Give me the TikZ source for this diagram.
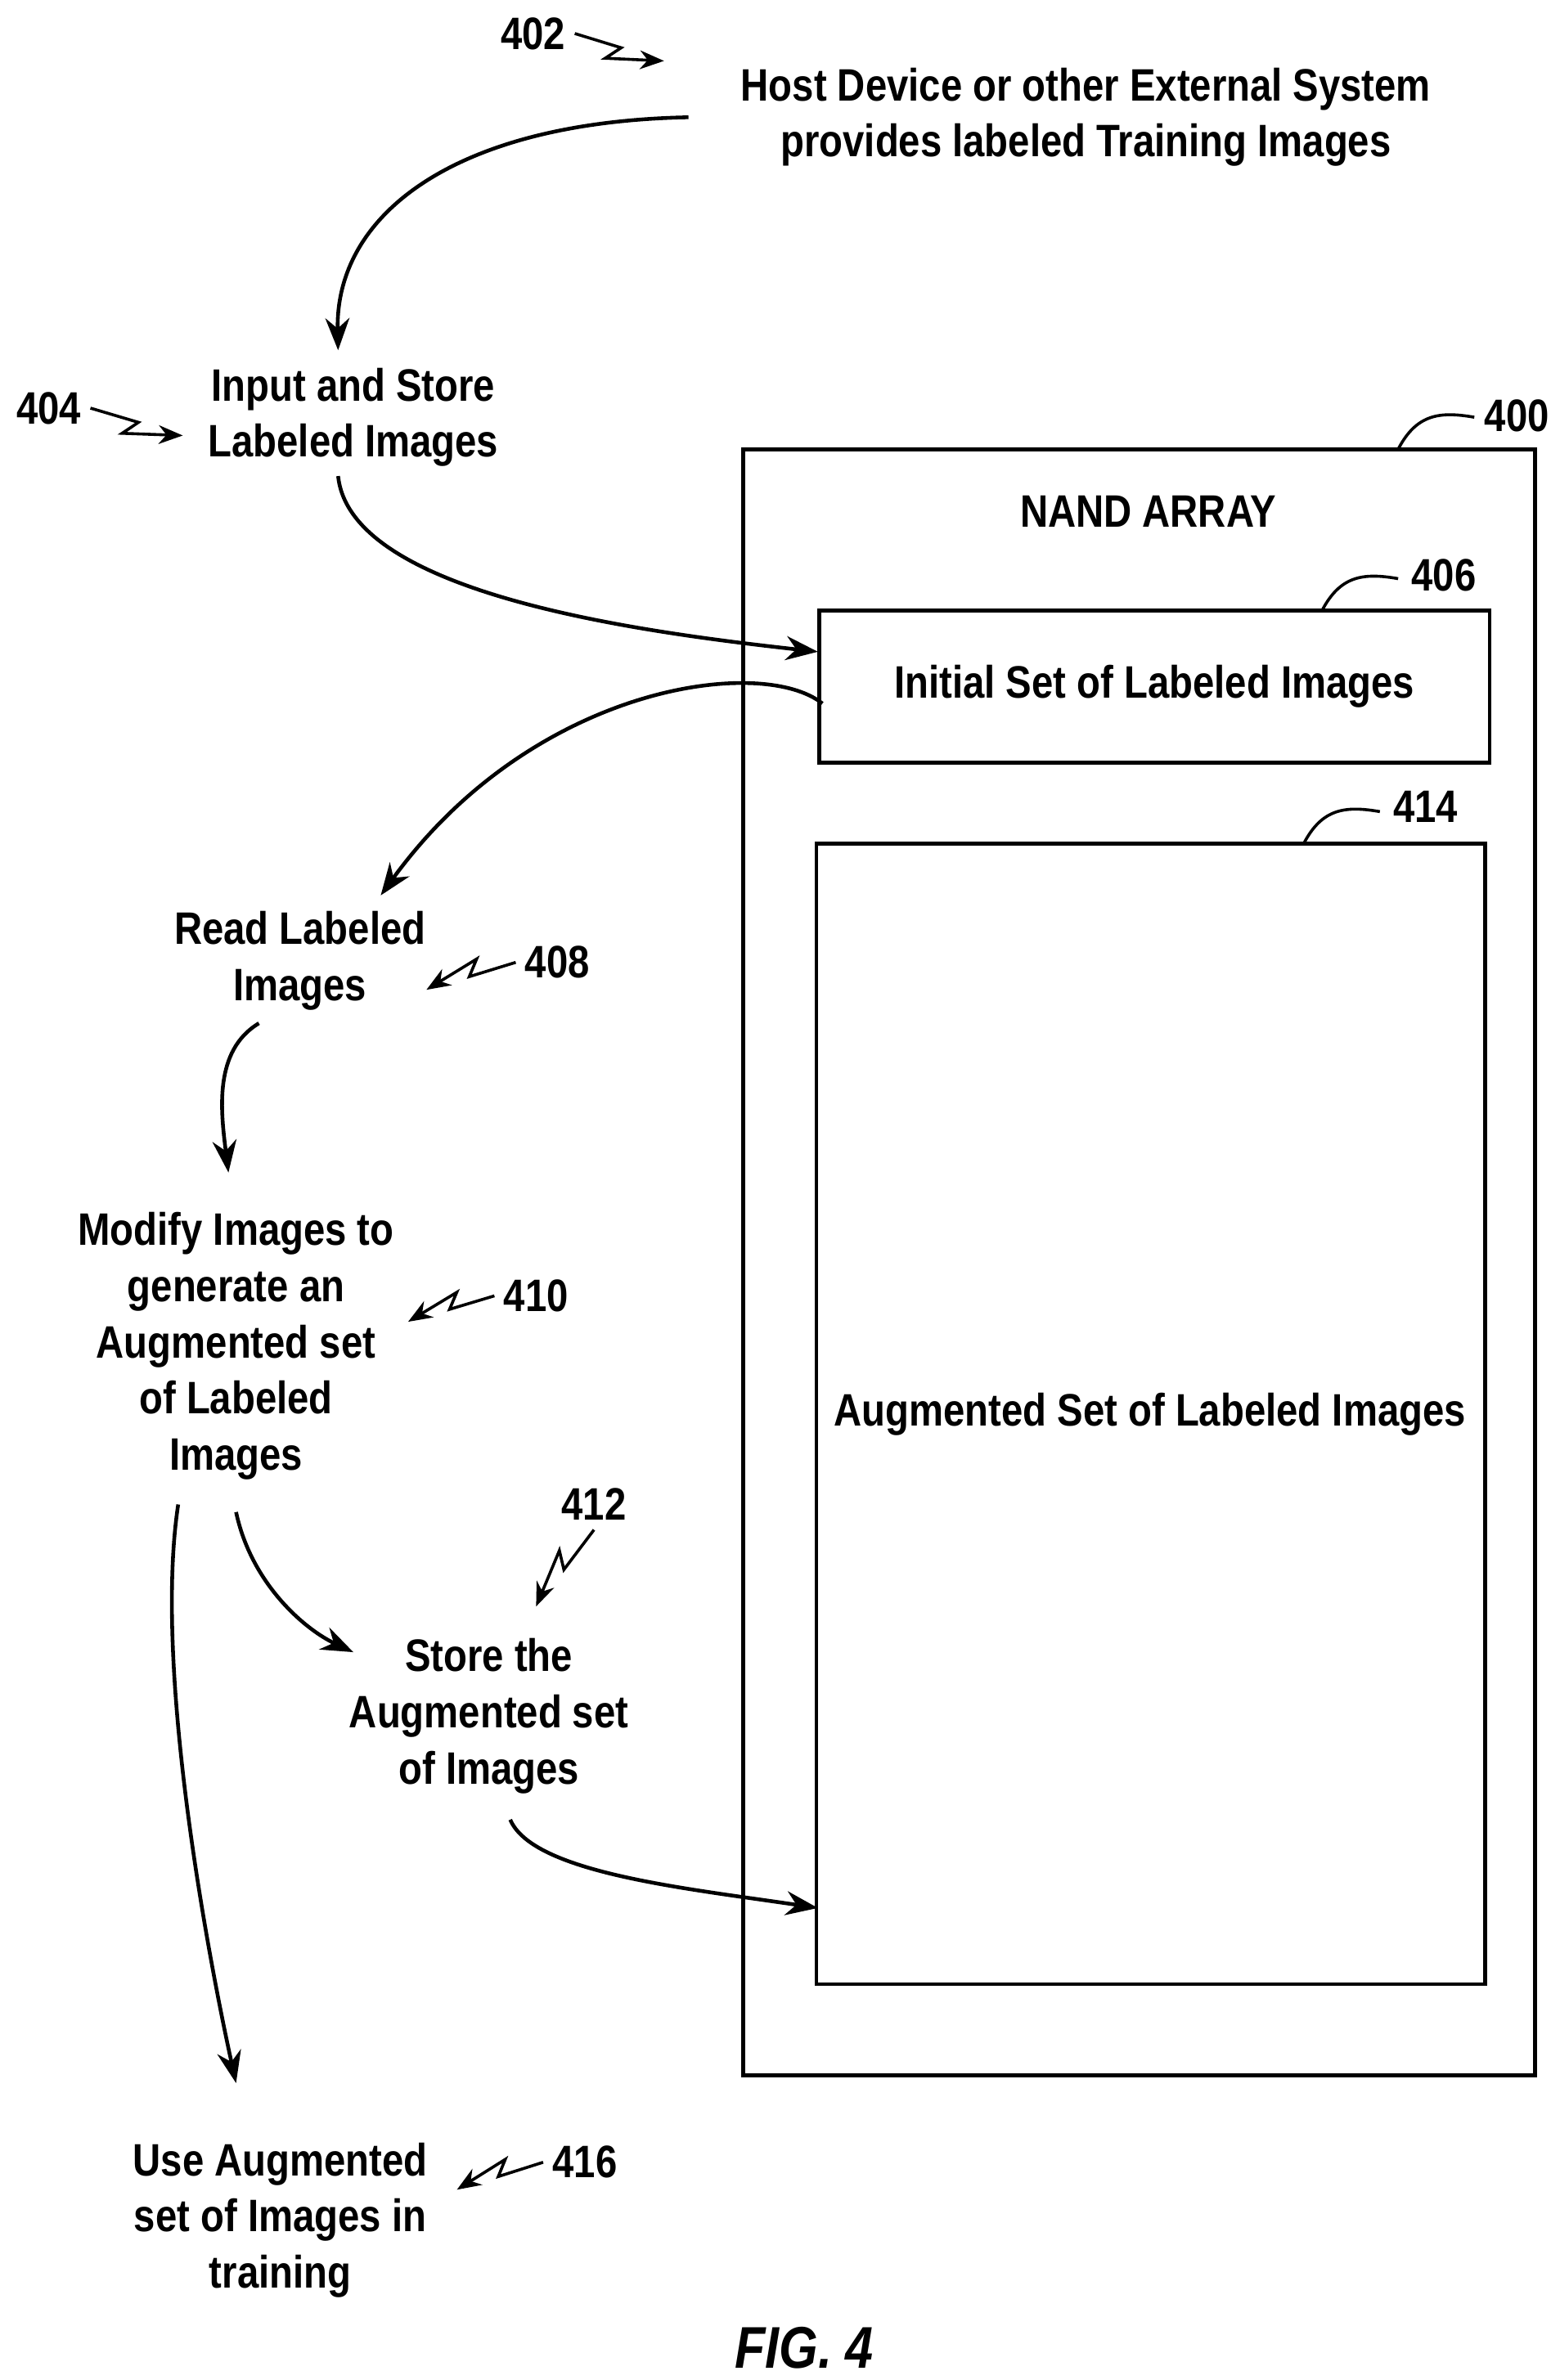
\documentclass[tikz,border=0pt]{standalone}
\usepackage{fontspec}
\setmainfont{Liberation Sans}[FakeStretch=0.85]
\usetikzlibrary{arrows.meta, calc, positioning}

\tikzset{
  txt/.style={font=\fontsize{17}{21}\selectfont\bfseries, align=center},
  ref/.style={font=\fontsize{17}{21}\selectfont\bfseries},
  flow/.style={line width=1.4pt, -{Stealth[length=12pt, width=9pt]}},
  box/.style={draw, line width=1.4pt},
}
% lightning-style reference squiggle
\newcommand{\zig}[2]{\draw[line width=1.1pt, -{Stealth[length=9pt, width=7pt]}]
  (#1) -- ($(#1)!0.52!(#2)$) -- ($(#1)!0.42!-22:(#2)$) -- (#2);}

\begin{document}
\begin{tikzpicture}[x=0.02cm, y=-0.02cm]
\useasboundingbox (0,0) rectangle (1024,1563);

% memory array
\draw[box] (488,295) rectangle (1008,1363);
\node[txt] (nand) at (754,336) {NAND ARRAY};
\draw[box] (538,401) rectangle (978,501);
\node[txt] (init) at (758,451) {Initial Set of Labeled Images};
\draw[box] (536,554) rectangle (975,1303);
\node[txt] (aug) at (755,929) {Augmented Set of Labeled Images};

% reference numerals with hooks
\node[ref] (r400) at (996,273) {400};
\draw[line width=1.1pt] (918,295) .. controls (930,272) and (945,270) .. (968,274);
\node[ref] (r406) at (948,378) {406};
\draw[line width=1.1pt] (868,401) .. controls (880,378) and (895,376) .. (918,380);
\node[ref] (r414) at (936,530) {414};
\draw[line width=1.1pt] (856,554) .. controls (868,531) and (883,529) .. (906,533);

% process steps
\node[txt] (host) at (713,77) {Host Device or other External System\\provides labeled Training Images};
\node[txt] (input) at (232,274) {Input and Store\\Labeled Images};
\node[txt] (read) at (197,631) {Read Labeled\\Images};
\node[txt] (modify) at (155,884) {Modify Images to\\generate an\\Augmented set\\of Labeled\\Images};
\node[txt] (store) at (321,1127) {Store the\\Augmented set\\of Images};
\node[txt] (use) at (184,1458) {Use Augmented\\set of Images in\\training};
\node[font=\fontsize{22}{26}\selectfont\bfseries\itshape] (fig) at (528,1542) {FIG. 4};

% step numerals
\node[ref] (r402) at (350,22) {402};
\node[ref] (r404) at (32,268) {404};
\node[ref] (r408) at (366,632) {408};
\node[ref] (r410) at (352,851) {410};
\node[ref] (r412) at (390,988) {412};
\node[ref] (r416) at (384,1420) {416};
\coordinate (z402) at (436,40);
\coordinate (z404) at (120,286);
\coordinate (z408) at (280,650);
\coordinate (z410) at (268,868);
\coordinate (z412) at (352,1055);
\coordinate (z416) at (300,1438);
\zig{r402.east}{z402}
\zig{r404.east}{z404}
\zig{r408.west}{z408}
\zig{r410.west}{z410}
\zig{r412.south}{z412}
\zig{r416.west}{z416}

% flow
\draw[flow] (452,77) .. controls (300,80) and (220,140) .. (222,230);
\draw[flow] (input.south) ++(-10,0) .. controls (230,390) and (420,415) .. (537,428);
\draw[flow] (540,462) .. controls (500,430) and (350,450) .. (250,588);
\draw[flow] (170,672) .. controls (140,690) and (145,730) .. (150,770);
\draw[flow] (155,993) .. controls (165,1040) and (200,1070) .. (232,1085);
\draw[flow] (335,1195) .. controls (350,1230) and (450,1240) .. (537,1253);
\draw[flow] (117,988) .. controls (100,1100) and (140,1300) .. (155,1368);
\end{tikzpicture}
\end{document}
